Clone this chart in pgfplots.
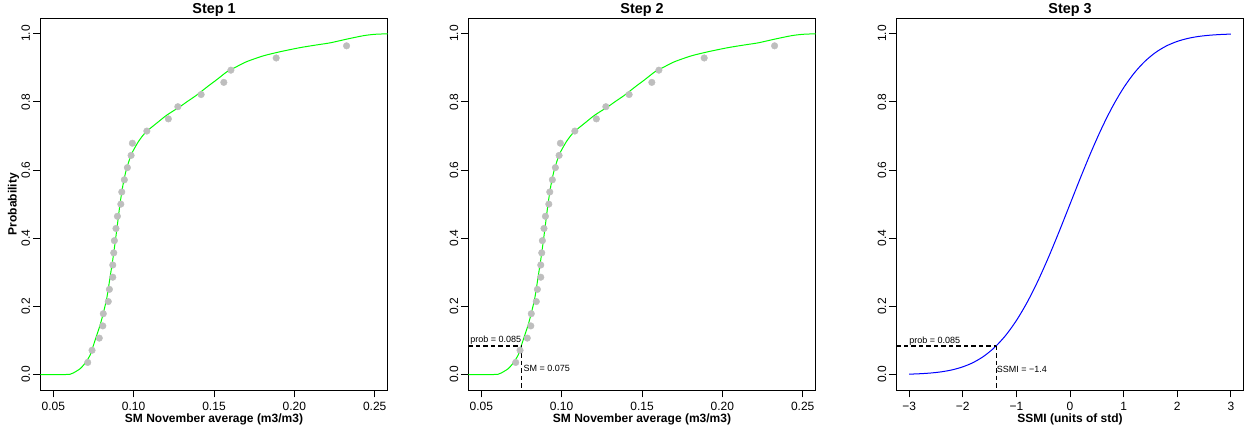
\documentclass[border=0pt]{standalone}
\usepackage{fontspec}
\setmainfont{Liberation Sans}
\usepackage{pgfplots}
\pgfplotsset{compat=1.18}
\definecolor{rgray}{HTML}{BEBEBE}
\definecolor{rgreen}{HTML}{00FF00}
\definecolor{rblue}{HTML}{0000FF}
\pgfplotsset{rstyle/.style={
  anchor=south west,
  scale only axis, width=347.4pt, height=372pt,
  axis line style={line width=0.8pt},
  tick align=outside, major tick length=7pt,
  xtick pos=left, ytick pos=left,
  tick style={black, line width=0.8pt},
  ymin=-0.046, ymax=1.045,
  ytick={0,0.2,0.4,0.6,0.8,1.0},
  yticklabels={0.0,0.2,0.4,0.6,0.8,1.0},
  yticklabel style={rotate=90, anchor=base, inner sep=0pt, font=\fontsize{12}{14}\selectfont},
  yticklabel shift=3.3pt,
  xticklabel style={anchor=base, inner sep=0pt, font=\fontsize{12}{14}\selectfont},
  xticklabel shift=13.4pt,
  every axis title shift=0pt,
  title style={at={(axis description cs:0.5,1.0116)}, anchor=base, inner sep=0pt, font=\bfseries\fontsize{14.4}{17}\selectfont},
  xlabel style={at={(axis description cs:0.5,-0.0866)}, anchor=base, inner sep=0pt, font=\bfseries\fontsize{12}{14}\selectfont},
  ylabel style={at={(axis description cs:-0.0685,0.5)}, anchor=base, inner sep=0pt, font=\bfseries\fontsize{12}{14}\selectfont},
  clip=true,
}}
\pgfplotstableread{
x y
0.0714 0.0357
0.0741 0.0714
0.0786 0.1071
0.0808 0.1429
0.0811 0.1786
0.0842 0.2143
0.0849 0.2500
0.0870 0.2857
0.0870 0.3214
0.0876 0.3571
0.0880 0.3929
0.0890 0.4286
0.0899 0.4643
0.0920 0.5000
0.0926 0.5357
0.0942 0.5714
0.0961 0.6071
0.0984 0.6429
0.0992 0.6786
0.1082 0.7143
0.1216 0.7500
0.1275 0.7857
0.1420 0.8214
0.1561 0.8571
0.1605 0.8929
0.1887 0.9286
0.2325 0.9643
}\pts
\pgfplotstableread{
x y
0.0400 0.000
0.0542 0.000
0.0604 0.001
0.0625 0.005
0.0666 0.017
0.0697 0.033
0.0729 0.057
0.0749 0.085
0.0770 0.115
0.0791 0.145
0.0811 0.180
0.0833 0.225
0.0853 0.285
0.0874 0.350
0.0895 0.425
0.0915 0.500
0.0933 0.555
0.0951 0.595
0.0970 0.625
0.0988 0.648
0.1009 0.667
0.1029 0.683
0.1055 0.700
0.1082 0.714
0.1150 0.740
0.1206 0.761
0.1289 0.786
0.1331 0.800
0.1393 0.820
0.1455 0.843
0.1520 0.866
0.1580 0.888
0.1640 0.903
0.1704 0.918
0.1808 0.935
0.1912 0.947
0.2036 0.959
0.2140 0.967
0.2223 0.973
0.2327 0.984
0.2430 0.994
0.2500 0.998
0.2600 1.000
}\curve
\pgfplotstableread{
x y
-3.0 0.0013
-2.8 0.0026
-2.6 0.0047
-2.4 0.0082
-2.2 0.0139
-2.0 0.0228
-1.8 0.0359
-1.6 0.0548
-1.4 0.0808
-1.2 0.1151
-1.0 0.1587
-0.8 0.2119
-0.6 0.2743
-0.4 0.3446
-0.2 0.4207
0.0 0.5000
0.2 0.5793
0.4 0.6554
0.6 0.7257
0.8 0.7881
1.0 0.8413
1.2 0.8849
1.4 0.9192
1.6 0.9452
1.8 0.9641
2.0 0.9772
2.2 0.9861
2.4 0.9918
2.6 0.9953
2.8 0.9974
3.0 0.9987
}\pnormtab
\begin{document}
\begin{tikzpicture}[x=1pt,y=1pt]
\path[use as bounding box] (0,0) rectangle (1246,434);
% Panel 1
\begin{axis}[rstyle, at={(40.3pt,43.7pt)},
  xmin=0.0419, xmax=0.2581,
  xtick={0.05,0.10,0.15,0.20,0.25},
  xticklabels={0.05,0.10,0.15,0.20,0.25},
  title={Step 1}, xlabel={SM November average (m3/m3)}, ylabel={Probability}]
\addplot[only marks, mark=*, mark size=3.3pt, rgray, mark options={draw=rgray, fill=rgray}] table[x=x,y=y] {\pts};
\addplot[rgreen, line width=1pt, smooth, tension=0.4] table[x=x,y=y] {\curve};
\end{axis}
% Panel 2
\begin{axis}[rstyle, at={(468.3pt,43.7pt)},
  xmin=0.0419, xmax=0.2581,
  xtick={0.05,0.10,0.15,0.20,0.25},
  xticklabels={0.05,0.10,0.15,0.20,0.25},
  title={Step 2}, xlabel={SM November average (m3/m3)}]
\addplot[only marks, mark=*, mark size=3.3pt, rgray, mark options={draw=rgray, fill=rgray}] table[x=x,y=y] {\pts};
\addplot[rgreen, line width=1pt, smooth, tension=0.4] table[x=x,y=y] {\curve};
\addplot[black, line width=1.8pt, dash pattern=on 4.5pt off 3pt] coordinates {(0.0419,0.085) (0.075,0.085)};
\addplot[black, line width=1.8pt, dash pattern=on 4.5pt off 3pt] coordinates {(0.075,0.085) (0.075,-0.046)};
\node[anchor=base west, inner sep=0pt, font=\fontsize{9}{11}\selectfont] at (axis cs:0.0430,0.0928) {prob = 0.085};
\node[anchor=base west, inner sep=0pt, font=\fontsize{9}{11}\selectfont] at (axis cs:0.0762,0.010) {SM = 0.075};
\end{axis}
% Panel 3
\begin{axis}[rstyle, at={(896.3pt,43.7pt)},
  xmin=-3.24, xmax=3.24,
  xtick={-3,-2,-1,0,1,2,3},
  xticklabels={−3,−2,−1,0,1,2,3},
  title={Step 3}, xlabel={SSMI (units of std)}]
\addplot[rblue, line width=1pt, smooth] table[x=x,y=y] {\pnormtab};
\addplot[black, line width=1.8pt, dash pattern=on 4.5pt off 3pt] coordinates {(-3.24,0.085) (-1.372,0.085)};
\addplot[black, line width=1.8pt, dash pattern=on 4.5pt off 3pt] coordinates {(-1.372,0.085) (-1.372,-0.046)};
\node[anchor=base west, inner sep=0pt, font=\fontsize{9}{11}\selectfont] at (axis cs:-3,0.091) {prob = 0.085};
\node[anchor=base west, inner sep=0pt, font=\fontsize{9}{11}\selectfont] at (axis cs:-1.37,0.006) {SSMI = −1.4};
\end{axis}
\end{tikzpicture}
\end{document}
